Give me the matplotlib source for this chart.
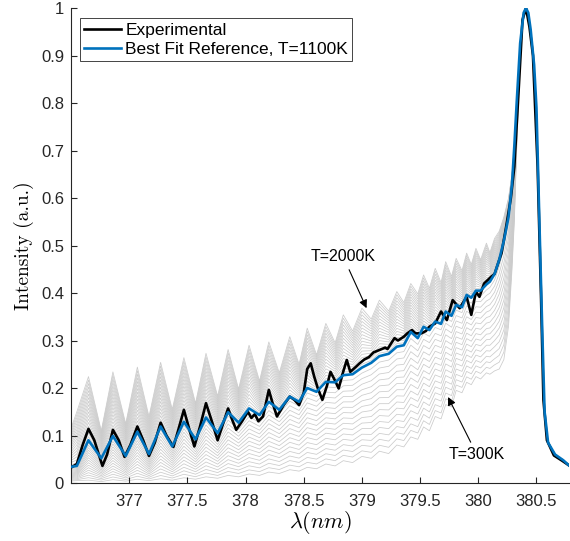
import numpy as np
import matplotlib
matplotlib.use("Agg")
import matplotlib.pyplot as plt

plt.rcParams["font.family"] = ["Liberation Sans", "DejaVu Sans"]
plt.rcParams["mathtext.fontset"] = "cm"

# ===== data =====
# common wavelength grid of the reference spectra (peaks / troughs + band head)
lam_ref = [376.50, 376.55,
           376.65, 376.76, 376.86, 376.97, 377.07, 377.17, 377.27, 377.37,
           377.47, 377.57, 377.66, 377.76, 377.85, 377.94, 378.03, 378.12,
           378.20, 378.29, 378.38, 378.46, 378.53, 378.61, 378.69, 378.77,
           378.84, 378.92, 379.00, 379.08, 379.15, 379.23, 379.30, 379.36,
           379.42, 379.48, 379.53, 379.58, 379.63, 379.68, 379.72, 379.77,
           379.81, 379.86, 379.90, 379.94, 379.98, 380.02, 380.07, 380.10,
           380.14, 380.18, 380.22, 380.26, 380.29, 380.31, 380.33, 380.36,
           380.39, 380.41, 380.43, 380.45, 380.48, 380.50, 380.52, 380.55,
           380.57, 380.60, 380.66, 380.73, 380.78]

# T = 300 K (lowest grey curve)
ref_300K = [0.004, 0.005,
            0.006, 0.003, 0.007, 0.004, 0.008, 0.005, 0.009, 0.006,
            0.011, 0.008, 0.013, 0.010, 0.016, 0.013, 0.019, 0.016,
            0.023, 0.020, 0.028, 0.025, 0.033, 0.030, 0.040, 0.036,
            0.047, 0.043, 0.056, 0.052, 0.067, 0.062, 0.080, 0.076,
            0.097, 0.092, 0.118, 0.110, 0.140, 0.135, 0.165, 0.160,
            0.195, 0.190, 0.212, 0.207, 0.224, 0.219, 0.232, 0.229,
            0.236, 0.240, 0.260, 0.330, 0.450, 0.550, 0.700, 0.900,
            0.990, 1.000, 0.990, 0.955, 0.880, 0.790, 0.600, 0.320,
            0.150, 0.085, 0.060, 0.048, 0.037]

# T = 1100 K (best fit reference, blue)
ref_1100K = [0.034, 0.036,
             0.090, 0.052, 0.099, 0.057, 0.108, 0.061, 0.119, 0.077,
             0.129, 0.092, 0.138, 0.105, 0.149, 0.127, 0.157, 0.143,
             0.171, 0.154, 0.182, 0.171, 0.200, 0.192, 0.213, 0.212,
             0.227, 0.229, 0.243, 0.253, 0.267, 0.272, 0.287, 0.290,
             0.318, 0.305, 0.329, 0.322, 0.340, 0.335, 0.361, 0.352,
             0.375, 0.370, 0.396, 0.390, 0.405, 0.405, 0.418, 0.424,
             0.440, 0.470, 0.510, 0.560, 0.630, 0.710, 0.800, 0.926,
             0.990, 1.000, 0.990, 0.955, 0.880, 0.790, 0.600, 0.320,
             0.150, 0.085, 0.060, 0.048, 0.037]

# T = 2000 K (highest grey curve)
ref_2000K = [0.115, 0.150,
             0.224, 0.110, 0.234, 0.125, 0.244, 0.140, 0.254, 0.155,
             0.264, 0.168, 0.273, 0.183, 0.281, 0.198, 0.290, 0.215,
             0.297, 0.232, 0.308, 0.250, 0.326, 0.270, 0.336, 0.295,
             0.354, 0.320, 0.368, 0.345, 0.385, 0.362, 0.403, 0.380,
             0.420, 0.398, 0.438, 0.410, 0.452, 0.422, 0.466, 0.435,
             0.473, 0.447, 0.484, 0.460, 0.494, 0.470, 0.505, 0.485,
             0.515, 0.530, 0.560, 0.600, 0.650, 0.710, 0.780, 0.910,
             0.990, 1.000, 0.990, 0.955, 0.880, 0.790, 0.600, 0.320,
             0.150, 0.085, 0.060, 0.048, 0.037]

# experimental spectrum
lam_exp = [376.51, 376.55, 376.60, 376.65, 376.70, 376.77, 376.81, 376.86,
           376.91, 376.96, 377.01, 377.07, 377.12, 377.17, 377.22, 377.27,
           377.32, 377.38, 377.42, 377.47, 377.52, 377.56, 377.61, 377.66,
           377.71, 377.76, 377.80, 377.85, 377.89, 377.92, 377.97, 378.02,
           378.05, 378.08, 378.11, 378.15, 378.20, 378.23, 378.27, 378.33,
           378.38, 378.42, 378.46, 378.50, 378.53, 378.56, 378.59, 378.62,
           378.66, 378.70, 378.73, 378.77, 378.80, 378.84, 378.87, 378.90,
           378.95, 378.98, 379.02, 379.06, 379.10, 379.15, 379.20, 379.22,
           379.28, 379.31, 379.36, 379.39, 379.43, 379.46, 379.51, 379.55,
           379.58, 379.63, 379.68, 379.73, 379.78, 379.84, 379.90, 379.94,
           379.98, 380.01, 380.05, 380.11, 380.14, 380.20, 380.24, 380.28,
           380.31, 380.35, 380.38, 380.41, 380.44, 380.47, 380.51, 380.54,
           380.56, 380.59, 380.65, 380.72, 380.78]
int_exp = [0.034, 0.040, 0.080, 0.114, 0.090, 0.036, 0.060, 0.112,
           0.090, 0.055, 0.080, 0.119, 0.090, 0.057, 0.085, 0.127,
           0.100, 0.076, 0.110, 0.154, 0.110, 0.077, 0.120, 0.168,
           0.130, 0.090, 0.120, 0.157, 0.130, 0.112, 0.130, 0.150,
           0.137, 0.145, 0.130, 0.140, 0.196, 0.170, 0.140, 0.165,
           0.182, 0.175, 0.164, 0.190, 0.240, 0.252, 0.224, 0.200,
           0.175, 0.205, 0.234, 0.215, 0.199, 0.235, 0.259, 0.234,
           0.245, 0.252, 0.260, 0.265, 0.275, 0.280, 0.285, 0.282,
           0.305, 0.300, 0.308, 0.315, 0.322, 0.315, 0.315, 0.320,
           0.329, 0.336, 0.361, 0.343, 0.385, 0.368, 0.392, 0.354,
           0.403, 0.392, 0.420, 0.434, 0.440, 0.484, 0.540, 0.600,
           0.666, 0.841, 0.975, 1.000, 0.960, 0.900, 0.666, 0.385,
           0.175, 0.090, 0.058, 0.047, 0.037]

T_min, T_fit, T_max, T_step = 300, 1100, 2000, 50


def reference_family():
    """grey reference curves between the read 300K / 1100K / 2000K spectra"""
    lo, mid, hi = np.array(ref_300K), np.array(ref_1100K), np.array(ref_2000K)
    curves = []
    for T in range(T_min, T_max + 1, T_step):
        if T <= T_fit:
            w = (T - T_min) / (T_fit - T_min)
            curves.append((1 - w) * lo + w * mid)
        else:
            w = (T - T_fit) / (T_max - T_fit)
            curves.append((1 - w) * mid + w * hi)
    return curves


fig = plt.figure(figsize=(5.7, 5.41), dpi=100)
ax = fig.add_axes([0.1246, 0.1072, 0.8737, 0.878])

for c in reference_family():
    ax.plot(lam_ref, c, color="#cbcbcb", lw=0.55, zorder=1)

ax.plot(lam_exp, int_exp, color="black", lw=1.9, label="Experimental", zorder=3)
ax.plot(lam_ref, ref_1100K, color="#0072BD", lw=1.9,
        label="Best Fit Reference, T=1100K", zorder=4)

ax.annotate("T=2000K", xy=(379.04, 0.368), xytext=(378.84, 0.476),
            ha="center", va="center", fontsize=11.5,
            arrowprops=dict(arrowstyle="-|>", color="black", lw=0.8,
                            mutation_scale=12, shrinkA=2, shrinkB=0))
ax.annotate("T=300K", xy=(379.74, 0.181), xytext=(379.99, 0.059),
            ha="center", va="center", fontsize=11.5,
            arrowprops=dict(arrowstyle="-|>", color="black", lw=0.8,
                            mutation_scale=12, shrinkA=2, shrinkB=0))

ax.set_xlim(376.5, 380.78)
ax.set_ylim(0, 1)
ax.set_xticks([377, 377.5, 378, 378.5, 379, 379.5, 380, 380.5])
ax.set_xticklabels(["377", "377.5", "378", "378.5", "379", "379.5", "380", "380.5"])
ax.set_yticks(np.arange(0, 1.01, 0.1))
ax.set_yticklabels(["0", "0.1", "0.2", "0.3", "0.4", "0.5", "0.6", "0.7",
                    "0.8", "0.9", "1"])
ax.tick_params(direction="in", length=4, width=0.8, labelsize=12,
               colors="#262626", labelcolor="#262626")
ax.tick_params(axis="x", pad=8)
ax.tick_params(axis="y", pad=5)
for s in ["top", "right"]:
    ax.spines[s].set_visible(False)
for s in ["left", "bottom"]:
    ax.spines[s].set_color("#262626")
    ax.spines[s].set_linewidth(0.8)

ax.set_xlabel(r"$\lambda(nm)$", fontsize=16, labelpad=0)
ax.set_ylabel("Intensity (a.u.)", fontsize=14, family="cmr10", labelpad=5)

leg = ax.legend(loc="upper left", bbox_to_anchor=(0.018, 0.978), fontsize=12.5,
                fancybox=False, framealpha=1, edgecolor="#262626",
                handlelength=2.1, handletextpad=0.25, borderpad=0.25,
                labelspacing=0.22, borderaxespad=0)
leg.get_frame().set_linewidth(0.6)

fig.savefig("out.png", dpi=100)
